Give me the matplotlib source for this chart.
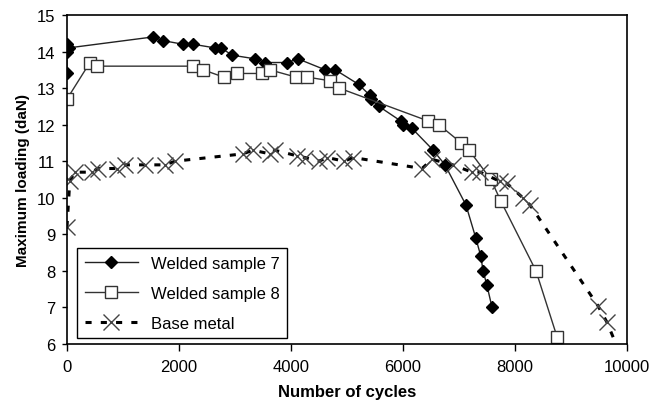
import matplotlib.pyplot as plt
import numpy as np

plt.rcParams['font.family'] = ['Liberation Sans', 'DejaVu Sans']

# Welded sample 7
ws7_x = [0, 0, 0, 30, 1540, 1710, 2070, 2250, 2640, 2750, 2950, 3360, 3540, 3930, 4125,
         4610, 4790, 5210, 5410, 5420, 5570, 5960, 6000, 6160, 6540, 6750, 7125, 7300, 7390,
         7430, 7500, 7590]
ws7_y = [13.4, 14.0, 14.2, 14.1, 14.4, 14.3, 14.2, 14.2, 14.1, 14.1, 13.9, 13.8, 13.7, 13.7, 13.8,
         13.5, 13.5, 13.1, 12.8, 12.7, 12.5, 12.1, 12.0, 11.9, 11.3, 10.9, 9.8, 8.9, 8.4,
         8.0, 7.6, 7.0]

# Welded sample 8
ws8_x = [0, 410, 540, 2250, 2430, 2800, 3040, 3480, 3620, 4090, 4290, 4700, 4860, 6450, 6640,
         7040, 7180, 7570, 7750, 8375, 8750]
ws8_y = [12.7, 13.7, 13.6, 13.6, 13.5, 13.3, 13.4, 13.4, 13.5, 13.3, 13.3, 13.2, 13.0, 12.1, 12.0,
         11.5, 11.3, 10.5, 9.9, 8.0, 6.2]

# Base metal
bm_x = [0, 50, 140, 440, 550, 890, 1040, 1390, 1750, 1930, 3140, 3320, 3630, 3710, 4100, 4250,
        4500, 4650, 4950, 5110, 6340, 6520, 6890, 7230, 7380, 7730, 7850, 8140, 8270, 9480,
        9640, 9790]
bm_y = [9.2, 10.45, 10.7, 10.7, 10.8, 10.8, 10.9, 10.9, 10.9, 11.0, 11.2, 11.3, 11.2, 11.3, 11.15, 11.1,
        11.0, 11.1, 11.0, 11.1, 10.8, 11.05, 10.9, 10.7, 10.7, 10.45, 10.4, 10.0, 9.8, 7.05,
        6.6, 6.05]

fig = plt.figure(figsize=(6.54, 4.14), dpi=100)
ax = fig.add_axes([0.1024, 0.1667, 0.8563, 0.7947])

ax.plot(ws7_x, ws7_y, color='#222222', linewidth=1.0, marker='D', ms=6.5,
        mfc='black', mec='black', label='Welded sample 7')
ax.plot(ws8_x, ws8_y, color='#333333', linewidth=1.0, marker='s', ms=8.5,
        mfc='white', mec='#333333', mew=1.0, label='Welded sample 8')
ax.plot(bm_x, bm_y, color='black', linewidth=2.2, linestyle=(0, (2, 3)),
        marker='x', ms=12, mec='#444444', mew=1.0,
        markevery=list(range(len(bm_x) - 1)), label='Base metal')

ax.set_xlim(0, 10000)
ax.set_ylim(6, 15)
ax.set_xticks([0, 2000, 4000, 6000, 8000, 10000])
ax.set_yticks(range(6, 16))
ax.tick_params(direction='out', width=1, labelsize=12, colors='black')
ax.tick_params(axis='x', length=5, pad=6)
ax.tick_params(axis='y', length=3.5, pad=5)
for s in ax.spines.values():
    s.set_linewidth(1.2)
    s.set_color('black')

ax.set_xlabel('Number of cycles', fontsize=12, fontweight='bold', labelpad=7)
ax.set_ylabel('Maximum loading (daN)', fontsize=11, fontweight='bold', labelpad=5)

leg = ax.legend(loc='lower left', bbox_to_anchor=(0.018, 0.018), borderaxespad=0,
                fontsize=12, fancybox=False, edgecolor='black', framealpha=1,
                handlelength=3.2, labelspacing=0.9, borderpad=0.45)
leg.get_frame().set_linewidth(1.0)

fig.savefig('out.png', dpi=100)
